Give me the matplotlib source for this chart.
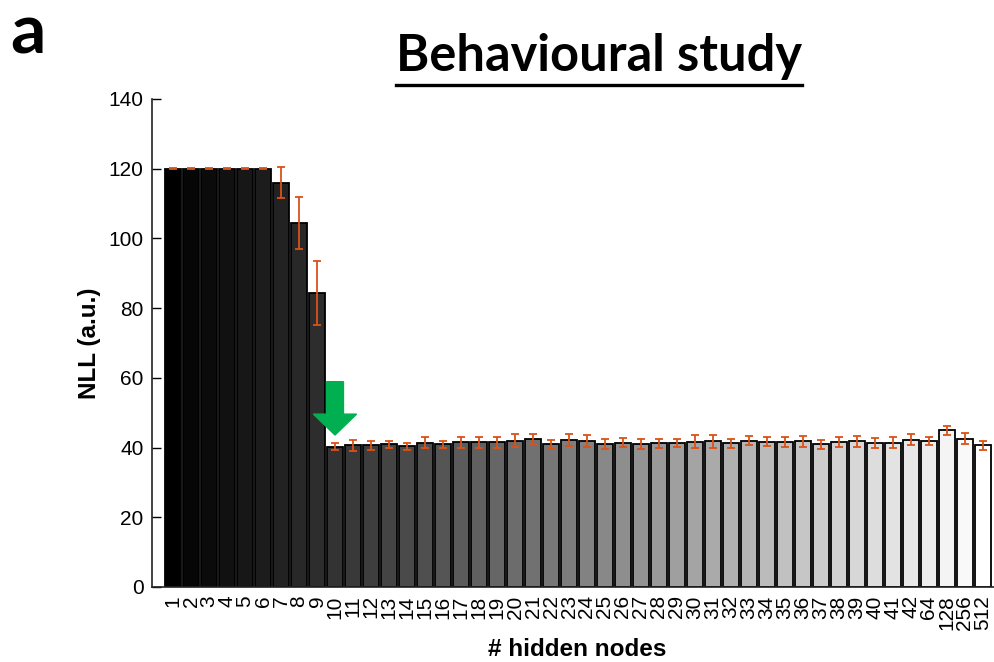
import numpy as np
import matplotlib
matplotlib.use("Agg")
import matplotlib.pyplot as plt
from matplotlib.patches import FancyArrow
from matplotlib.lines import Line2D

plt.rcParams['font.family'] = ['Liberation Sans', 'DejaVu Sans']

# data
labels = [str(i) for i in range(1, 43)] + ['64', '128', '256', '512']
nll = [120, 120, 120, 120, 120, 120, 116, 104.5, 84.3,
       40.3, 40.6, 40.6, 41.0, 40.4, 41.4, 41.0, 41.5, 41.5, 41.5,
       42.0, 42.4, 40.9, 42.2, 41.9, 41.1, 41.4, 41.0, 41.2, 41.4,
       41.7, 41.8, 41.2, 42.0, 41.7, 41.6, 41.8, 40.9, 41.6, 41.8,
       41.4, 41.4, 42.3, 41.9, 44.9, 42.6, 40.7]
err = [0.2, 0.2, 0.2, 0.2, 0.2, 0.2, 4.5, 7.4, 9.2,
       1.1, 1.5, 1.3, 1.0, 1.0, 1.5, 1.0, 1.5, 1.5, 1.5,
       1.8, 1.5, 1.4, 1.7, 1.6, 1.5, 1.3, 1.5, 1.2, 1.2,
       1.8, 1.8, 1.4, 1.2, 1.2, 1.3, 1.6, 1.2, 1.5, 1.6,
       1.4, 1.6, 1.6, 1.2, 1.2, 1.7, 1.3]
best = 10  # marked by the arrow

n = len(labels)
x = np.arange(1, n + 1)
greys = [str(v) for v in np.linspace(0, 1, n)]

W, H = 995, 662
fig = plt.figure(figsize=(W / 100, H / 100), dpi=100)
ax = fig.add_axes([152 / W, 75 / H, 849 / W, 488 / H])

ax.bar(x, nll, width=0.88, color=greys, edgecolor='black', linewidth=1.3, zorder=2)
ax.errorbar(x, nll, yerr=err, fmt='none', ecolor='#D95319', elinewidth=1.3,
            capsize=2.8, capthick=1.3, zorder=3)

ax.set_xlim(1 - 21 / 18, n + 1)
ax.set_ylim(0, 140)
ax.set_yticks(np.arange(0, 141, 20))
ax.set_xticks(x)
ax.set_xticklabels(labels, rotation=90, fontsize=15)
ax.tick_params(axis='y', direction='in', length=6.5, width=1.0, labelsize=15, pad=6)
ax.tick_params(axis='x', length=0, pad=6)
for s in ['top', 'right']:
    ax.spines[s].set_visible(False)
for s in ['left', 'bottom']:
    ax.spines[s].set_linewidth(1.2)
    ax.spines[s].set_color('#222222')

# green arrow pointing at the chosen model
tip = nll[best - 1] + err[best - 1] + 2.2
ax.add_patch(FancyArrow(best, 58.9, 0, tip - 58.9, width=0.94, head_width=2.4,
                        head_length=6.0, length_includes_head=True,
                        color='#00B050', zorder=4))

fig.text(90 / W, 1 - 343 / H, 'NLL (a.u.)', rotation=90, ha='center', va='center',
         fontsize=17.5, fontweight='bold')
fig.text(577 / W, 1 - 650 / H, '# hidden nodes', ha='center', va='center',
         fontsize=17.5, fontweight='bold')

title = fig.text(599 / W, 1 - 71 / H, 'Behavioural study', ha='center', va='baseline',
                 fontsize=36.4, fontweight='bold', family='Lato')
fig.text(10 / W, 1 - 54 / H, 'a', ha='left', va='baseline',
         fontsize=50, fontweight='bold', family='Lato')

# underline the title
r = fig.canvas.get_renderer()
bb = title.get_window_extent(r)
fig.add_artist(Line2D([bb.x0 / W, bb.x1 / W], [1 - 85 / H, 1 - 85 / H],
                      transform=fig.transFigure, color='black', linewidth=2.4))

fig.savefig('out.png', dpi=100)
